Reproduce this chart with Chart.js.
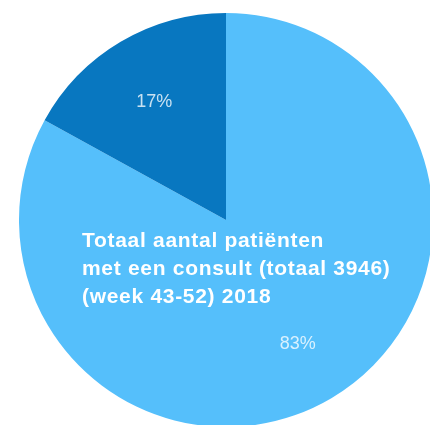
<!DOCTYPE html>
<html>
<head>
<meta charset="utf-8">
<script src="https://cdn.jsdelivr.net/npm/chart.js@4"></script>
<style>
  html, body { margin: 0; padding: 0; background: #fff; overflow: hidden; width: 430px; height: 425px; }
  #wrap { position: absolute; left: 19px; top: 13px; width: 414px; height: 414px; }
  #title {
    position: absolute; left: 82px; top: 226px;
    font-family: "Liberation Sans", Arial, sans-serif; font-weight: bold;
    font-size: 21px; line-height: 28px; letter-spacing: 0.7px; color: #fff; white-space: nowrap;
  }
</style>
</head>
<body>
<div id="wrap"><canvas id="pie" width="414" height="414"></canvas></div>
<div id="title">Totaal aantal patiënten<br>met een consult (totaal 3946)<br>(week 43-52) 2018</div>
<script>
const categories = ['Zonder', 'Met'];
const values = [83, 17];
const percentLabels = ['83%', '17%'];
const colors = ['#55bffb', '#0877c0'];

// draw the percent text inside each slice
const sliceLabels = {
    id: 'sliceLabels',
    afterDatasetsDraw(chart) {
        const ctx = chart.ctx;
        const arcs = chart.getDatasetMeta(0).data;
        ctx.save();
        ctx.font = '18px "Liberation Sans", Arial, sans-serif';
        ctx.fillStyle = 'rgba(255,255,255,0.78)';
        ctx.textAlign = 'center';
        ctx.textBaseline = 'alphabetic';
        arcs.forEach((arc, i) => {
            const p = arc.getProps(['x', 'y', 'startAngle', 'endAngle', 'outerRadius'], true);
            const mid = (p.startAngle + p.endAngle) / 2;
            const r = p.outerRadius * 0.68;
            ctx.fillText(percentLabels[i], p.x + Math.cos(mid) * r, p.y + Math.sin(mid) * r + 8);
        });
        ctx.restore();
    }
};

new Chart(document.getElementById('pie').getContext('2d'), {
    type: 'pie',
    data: {
        labels: categories,
        datasets: [{
            data: values,
            backgroundColor: colors,
            borderWidth: 0
        }]
    },
    options: {
        responsive: false,
        animation: false,
        layout: { padding: 0 },
        plugins: {
            legend: { display: false },
            tooltip: { enabled: false }
        }
    },
    plugins: [sliceLabels]
});
</script>
</body>
</html>
